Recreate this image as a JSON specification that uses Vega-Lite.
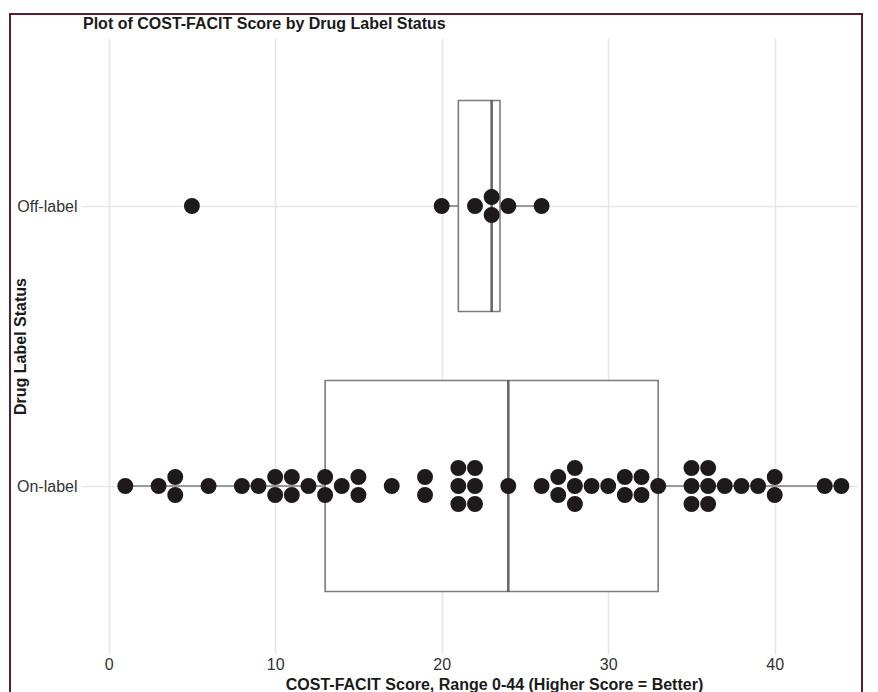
{
  "$schema": "https://vega.github.io/schema/vega-lite/v6.json",
  "width": 852,
  "height": 682,
  "autosize": {"type": "none"},
  "padding": {"left": 10, "top": 14, "right": 16, "bottom": -4},
  "background": "white",
  "title": {
    "text": "Plot of COST-FACIT Score by Drug Label Status",
    "anchor": "start",
    "frame": "group",
    "orient": "top",
    "offset": -26,
    "dx": 73,
    "baseline": "middle",
    "font": "Liberation Sans",
    "fontSize": 16,
    "fontWeight": "bold",
    "color": "#1a1a1a"
  },
  "data": {
    "values": [
      {"status": "Off-label", "score": 5},
      {"status": "Off-label", "score": 20},
      {"status": "Off-label", "score": 22},
      {"status": "Off-label", "score": 23},
      {"status": "Off-label", "score": 23},
      {"status": "Off-label", "score": 24},
      {"status": "Off-label", "score": 26},
      {"status": "On-label", "score": 1},
      {"status": "On-label", "score": 3},
      {"status": "On-label", "score": 4},
      {"status": "On-label", "score": 4},
      {"status": "On-label", "score": 6},
      {"status": "On-label", "score": 8},
      {"status": "On-label", "score": 9},
      {"status": "On-label", "score": 10},
      {"status": "On-label", "score": 10},
      {"status": "On-label", "score": 11},
      {"status": "On-label", "score": 11},
      {"status": "On-label", "score": 12},
      {"status": "On-label", "score": 13},
      {"status": "On-label", "score": 13},
      {"status": "On-label", "score": 14},
      {"status": "On-label", "score": 15},
      {"status": "On-label", "score": 15},
      {"status": "On-label", "score": 17},
      {"status": "On-label", "score": 19},
      {"status": "On-label", "score": 19},
      {"status": "On-label", "score": 21},
      {"status": "On-label", "score": 21},
      {"status": "On-label", "score": 21},
      {"status": "On-label", "score": 22},
      {"status": "On-label", "score": 22},
      {"status": "On-label", "score": 22},
      {"status": "On-label", "score": 24},
      {"status": "On-label", "score": 26},
      {"status": "On-label", "score": 27},
      {"status": "On-label", "score": 27},
      {"status": "On-label", "score": 28},
      {"status": "On-label", "score": 28},
      {"status": "On-label", "score": 28},
      {"status": "On-label", "score": 29},
      {"status": "On-label", "score": 30},
      {"status": "On-label", "score": 31},
      {"status": "On-label", "score": 31},
      {"status": "On-label", "score": 32},
      {"status": "On-label", "score": 32},
      {"status": "On-label", "score": 33},
      {"status": "On-label", "score": 35},
      {"status": "On-label", "score": 35},
      {"status": "On-label", "score": 35},
      {"status": "On-label", "score": 36},
      {"status": "On-label", "score": 36},
      {"status": "On-label", "score": 36},
      {"status": "On-label", "score": 37},
      {"status": "On-label", "score": 38},
      {"status": "On-label", "score": 39},
      {"status": "On-label", "score": 40},
      {"status": "On-label", "score": 40},
      {"status": "On-label", "score": 43},
      {"status": "On-label", "score": 44}
    ]
  },
  "layer": [
    {
      "mark": {
        "type": "boxplot",
        "extent": 1.5,
        "size": 211,
        "outliers": false,
        "box": {"fill": "white", "stroke": "#7d7d7d", "strokeWidth": 1.6},
        "median": {"color": "#2a2a2a", "thickness": 2.6},
        "rule": {"color": "#7d7d7d", "strokeWidth": 1.6}
      },
      "encoding": {
        "x": {
          "field": "score",
          "type": "quantitative",
          "scale": {"domain": [-1.6, 45], "range": [72, 848], "nice": false, "zero": false},
          "axis": {
            "orient": "top",
            "grid": true,
            "labels": false,
            "ticks": false,
            "domain": false,
            "title": null,
            "values": [0, 10, 20, 30, 40]
          }
        },
        "y": {
          "field": "status",
          "type": "nominal",
          "scale": {"type": "point", "domain": ["Off-label", "On-label"], "range": [24, 640], "padding": 0.6},
          "axis": {
            "orient": "left",
            "grid": true,
            "labels": false,
            "ticks": false,
            "domain": false,
            "title": null
          }
        }
      }
    },
    {
      "transform": [
        {"window": [{"op": "count", "as": "w"}], "frame": [0, 0]},
        {"stack": "w", "groupby": ["status", "score"], "offset": "center", "as": ["s0", "s1"]}
      ],
      "mark": {"type": "circle", "size": 254, "color": "#1e1a1b", "opacity": 1},
      "encoding": {
        "x": {
          "field": "score",
          "type": "quantitative",
          "scale": {"domain": [-1.6, 45], "range": [72, 848], "nice": false, "zero": false},
          "axis": {
            "orient": "bottom",
            "grid": false,
            "offset": -42,
            "ticks": false,
            "domain": false,
            "labelPadding": 2,
            "labelFlush": false,
            "values": [0, 10, 20, 30, 40],
            "title": "COST-FACIT Score, Range 0-44 (Higher Score = Better)",
            "titleX": 484,
            "titleY": 30,
            "titleBaseline": "middle",
            "titleAlign": "center"
          }
        },
        "y": {
          "field": "status",
          "type": "nominal",
          "scale": {"type": "point", "domain": ["Off-label", "On-label"], "range": [24, 640], "padding": 0.6},
          "axis": {
            "orient": "left",
            "grid": false,
            "offset": -72,
            "ticks": false,
            "domain": false,
            "labelPadding": 5,
            "title": "Drug Label Status",
            "titleX": -62,
            "titleY": 332,
            "titleAngle": 270,
            "titleBaseline": "middle",
            "titleAlign": "center"
          }
        },
        "yOffset": {
          "field": "s0",
          "type": "quantitative",
          "scale": {"domain": [-1.5, 1.5], "range": [-45, 9], "nice": false, "zero": false}
        }
      }
    }
  ],
  "resolve": {"axis": {"x": "independent", "y": "independent"}},
  "config": {
    "view": {"stroke": "#5c1e2e", "strokeWidth": 2},
    "font": "Liberation Sans",
    "axis": {
      "labelFont": "Liberation Sans",
      "labelFontSize": 16,
      "labelColor": "#333333",
      "titleFont": "Liberation Sans",
      "titleFontSize": 16,
      "titleFontWeight": "bold",
      "titleColor": "#1a1a1a",
      "gridColor": "#e6e6e6",
      "gridWidth": 1.6
    }
  }
}
